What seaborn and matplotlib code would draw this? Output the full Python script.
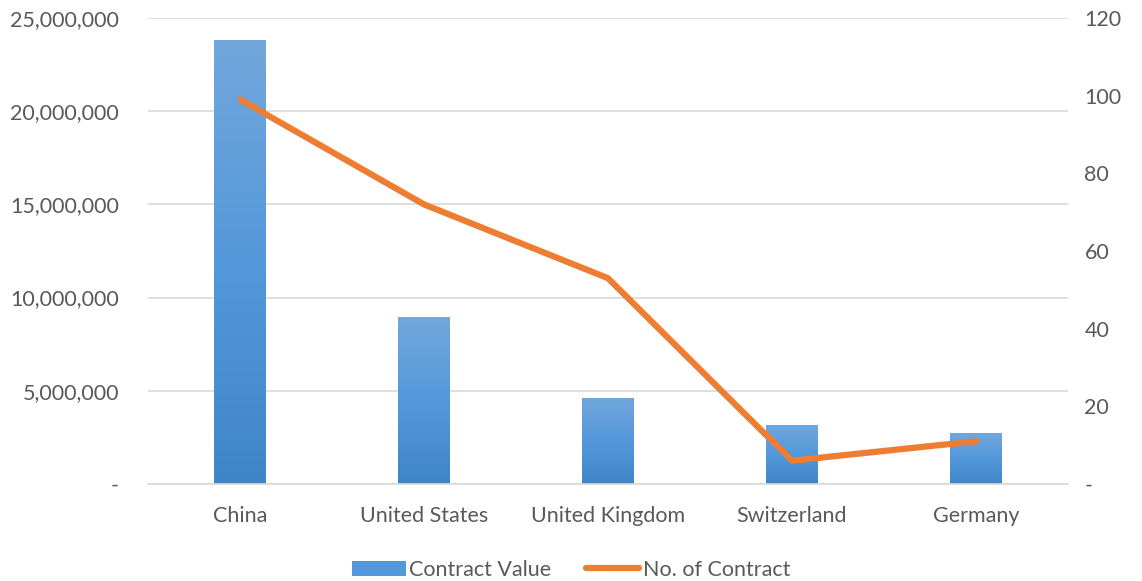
import numpy as np
import pandas as pd
import matplotlib
matplotlib.use("Agg")
import matplotlib.pyplot as plt
import matplotlib.ticker as mticker
from matplotlib.colors import LinearSegmentedColormap
from matplotlib.lines import Line2D
from matplotlib.patches import Patch
import seaborn as sns

countries = ["China", "United States", "United Kingdom", "Switzerland", "Germany"]
contract_value = [23800000, 8950000, 4620000, 3170000, 2740000]
contract_count = [99, 72, 53, 6, 11]

left_ticks = [0, 5000000, 10000000, 15000000, 20000000, 25000000]
right_ticks = [0, 20, 40, 60, 80, 100, 120]

sns.set_theme(style="white")
plt.rcParams["font.family"] = ["Lato", "DejaVu Sans"]
text_col = "#595959"
grid_col = "#D9D9D9"
fs = 15.5

df = pd.DataFrame({"country": countries, "value": contract_value, "count": contract_count})

fig = plt.figure(figsize=(11.42, 5.81), dpi=100)
ax = fig.add_axes([0.1296, 0.167, 0.8054, 0.802])

sns.barplot(data=df, x="country", y="value", ax=ax, width=0.28, color="#5B9BD5",
            saturation=1, zorder=2)

# gradient fill on each bar (lighter on top)
grad = LinearSegmentedColormap.from_list("g", ["#3F86C8", "#5398DA", "#72A7DC"])
img = np.linspace(0, 1, 256).reshape(-1, 1)
for p in ax.patches:
    x0, y0 = p.get_x(), p.get_y()
    w, h = p.get_width(), p.get_height()
    p.set_facecolor("none")
    p.set_edgecolor("none")
    im = ax.imshow(img, cmap=grad, origin="lower", aspect="auto",
                   extent=[x0, x0 + w, y0, y0 + h], zorder=2)
    im.set_clip_path(p)

ax.set_xlim(-0.5, 4.5)
ax.set_ylim(0, 25000000)
ax.set_yticks(left_ticks)
ax.yaxis.set_major_formatter(mticker.FuncFormatter(lambda v, _: "-" if v == 0 else f"{int(v):,}"))
ax.grid(axis="y", color=grid_col, linewidth=1.2, zorder=0)
ax.set_axisbelow(True)
ax.set_xlabel("")
ax.set_ylabel("")
for s in ["top", "right", "left"]:
    ax.spines[s].set_visible(False)
ax.spines["bottom"].set_color(grid_col)
ax.spines["bottom"].set_linewidth(1.2)
ax.tick_params(axis="both", length=0, labelsize=fs, colors=text_col)
ax.tick_params(axis="x", pad=16)
ax.tick_params(axis="y", pad=21)

ax2 = ax.twinx()
sns.lineplot(x=countries, y=contract_count, ax=ax2, color="#ED7D31", linewidth=4.5,
             sort=False, solid_capstyle="round", solid_joinstyle="round", zorder=3)
ax2.set_ylim(0, 120)
ax2.set_yticks(right_ticks)
ax2.yaxis.set_major_formatter(mticker.FuncFormatter(lambda v, _: "-" if v == 0 else f"{int(v)}"))
ax2.tick_params(axis="y", length=0, labelsize=fs, colors=text_col, pad=12)
for s in ["top", "right", "left", "bottom"]:
    ax2.spines[s].set_visible(False)
ax2.set_ylabel("")
ax2.grid(False)

handles = [Patch(facecolor="#5398DA", edgecolor="none"),
           Line2D([0], [0], color="#ED7D31", linewidth=4.5, solid_capstyle="round")]
fig.legend(handles, ["Contract Value", "No. of Contract"], loc="center",
           bbox_to_anchor=(0.5, 0.019), ncol=2, frameon=False, fontsize=fs,
           labelcolor=text_col, handlelength=2.5, handleheight=0.7,
           handletextpad=0.15, columnspacing=1.6)

fig.savefig("out.png", dpi=100)
